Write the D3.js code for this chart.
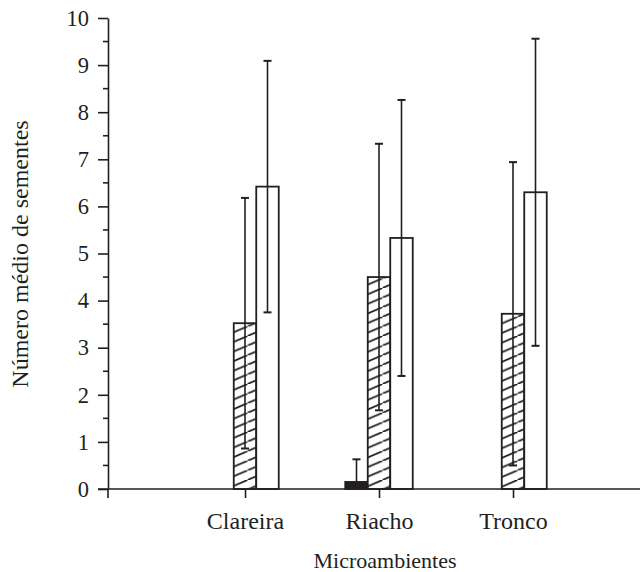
<!DOCTYPE html>
<html>
<head>
<meta charset="utf-8">
<script src="https://cdn.jsdelivr.net/npm/d3@7/dist/d3.min.js"></script>
<style>
  html, body { margin: 0; padding: 0; background: #fff; }
  svg { display: block; }
  text { font-family: "Liberation Serif", "Times New Roman", serif; fill: #231f20; }
</style>
</head>
<body>
<svg id="chart" width="640" height="572"></svg>
<script>
// ---- data ----
const categories = ["Clareira", "Riacho", "Tronco"];
const seriesKeys = ["solid", "hatched", "open"];
const solidMeans = [null, 0.15, null];
const solidErr = [null, 0.48, null];
const hatchedMeans = [3.52, 4.5, 3.72];
const hatchedErr = [2.66, 2.83, 3.22];
const openMeans = [6.42, 5.33, 6.3];
const openErr = [2.67, 2.93, 3.26];
const yTicks = [0, 1, 2, 3, 4, 5, 6, 7, 8, 9, 10];
const yLabel = "Número médio de sementes";
const xLabel = "Microambientes";

const seriesData = {
  solid: { means: solidMeans, err: solidErr },
  hatched: { means: hatchedMeans, err: hatchedErr },
  open: { means: openMeans, err: openErr }
};

// ---- layout ----
const ink = "#231f20";
const axisX = 108;
const yTop = 18, yBottom = 489;
const bw = 22.5;

const svg = d3.select("#chart");

const y = d3.scaleLinear().domain([0, 10]).range([yBottom, yTop]);
const x = d3.scalePoint().domain(categories).range([111, 647]).padding(1);
const off = d3.scalePoint().domain(seriesKeys).range([-bw, bw]);

// hatch pattern
const defs = svg.append("defs");
const hp = defs.append("pattern")
  .attr("id", "hatch")
  .attr("patternUnits", "userSpaceOnUse")
  .attr("width", bw).attr("height", 9.6);
hp.append("rect").attr("width", bw).attr("height", 9.6).attr("fill", "#fff");
hp.append("path")
  .attr("d", `M${-bw},${2*9.6} L${2*bw},${-9.6}`)
  .attr("stroke", ink).attr("stroke-width", 1.8).attr("fill", "none");

const fills = { solid: ink, hatched: "url(#hatch)", open: "#fff" };

// flatten records
const records = [];
seriesKeys.forEach(k => {
  categories.forEach((c, i) => {
    const m = seriesData[k].means[i];
    if (m == null) return;
    records.push({ key: k, cat: c, mean: m, err: seriesData[k].err[i] });
  });
});

// bars
svg.append("g").selectAll("rect")
  .data(records).join("rect")
  .attr("x", d => x(d.cat) + off(d.key) - bw / 2)
  .attr("y", d => y(d.mean))
  .attr("width", bw)
  .attr("height", d => y(0) - y(d.mean))
  .attr("fill", d => fills[d.key])
  .attr("stroke", ink)
  .attr("stroke-width", 1.8);

// error bars
const eg = svg.append("g").attr("stroke", ink).attr("stroke-width", 1.6).attr("fill", "none");
records.forEach(d => {
  const cx = x(d.cat) + off(d.key);
  const lo = Math.max(0, d.mean - d.err), hi = d.mean + d.err;
  eg.append("line").attr("x1", cx).attr("x2", cx).attr("y1", y(lo)).attr("y2", y(hi));
  eg.append("line").attr("x1", cx - 4).attr("x2", cx + 4).attr("y1", y(hi)).attr("y2", y(hi)).attr("stroke-width", 2);
  if (d.mean - d.err > 0) {
    eg.append("line").attr("x1", cx - 4).attr("x2", cx + 4).attr("y1", y(lo)).attr("y2", y(lo)).attr("stroke-width", 2);
  }
});

// y axis
const yAxis = svg.append("g").attr("transform", `translate(${axisX},0)`);
yAxis.call(d3.axisLeft(y).tickValues(yTicks).tickSize(10).tickPadding(9).tickSizeOuter(0));
yAxis.selectAll(".tick text").attr("font-size", 22.5).attr("font-family", "Liberation Serif").attr("fill", ink);
yAxis.selectAll("line, path").attr("stroke", ink).attr("stroke-width", 1.6);
// minor ticks
const minor = d3.range(0.5, 10, 1);
yAxis.append("g").selectAll("line").data(minor).join("line")
  .attr("x1", -5).attr("x2", 0)
  .attr("y1", d => y(d)).attr("y2", d => y(d))
  .attr("stroke", ink).attr("stroke-width", 1.6);
// axis extension below zero
yAxis.append("line").attr("x1", 0).attr("x2", 0).attr("y1", y(0)).attr("y2", y(0) + 9)
  .attr("stroke", ink).attr("stroke-width", 1.6);

// x axis
const xAxis = svg.append("g").attr("transform", `translate(0,${y(0)})`);
xAxis.call(d3.axisBottom(x).tickSize(9).tickPadding(14).tickSizeOuter(0));
xAxis.select(".domain").remove();
xAxis.selectAll(".tick line").attr("stroke", ink).attr("stroke-width", 1.6);
xAxis.selectAll(".tick text").attr("font-size", 24).attr("font-family", "Liberation Serif").attr("fill", ink);
xAxis.append("line").attr("x1", axisX - 10).attr("x2", 640).attr("y1", 0).attr("y2", 0)
  .attr("stroke", ink).attr("stroke-width", 1.6);

// axis titles
svg.append("text")
  .attr("transform", `translate(28,254) rotate(-90)`)
  .attr("text-anchor", "middle")
  .attr("font-size", 24)
  .text(yLabel);

svg.append("text")
  .attr("x", 385).attr("y", 568)
  .attr("text-anchor", "middle")
  .attr("font-size", 22)
  .text(xLabel);
</script>
</body>
</html>
